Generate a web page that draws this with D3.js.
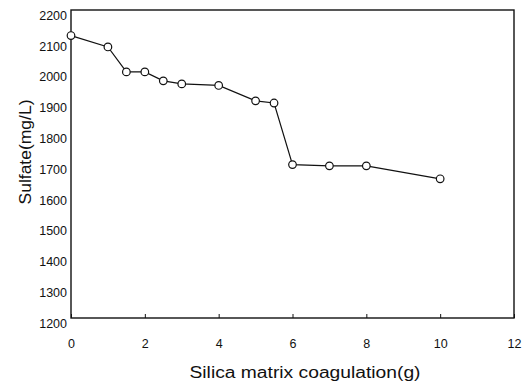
<!DOCTYPE html>
<html><head><meta charset="utf-8">
<script src="https://cdn.jsdelivr.net/npm/d3@7"></script>
<style>body{margin:0;background:#fff}svg{display:block}</style>
</head><body>
<script>
const xValues = [0, 1, 1.5, 2, 2.5, 3, 4, 5, 5.5, 6, 7, 8, 10];
const sulfate = [2117, 2080, 1999, 1999, 1970, 1960, 1955, 1905, 1898, 1698, 1694, 1694, 1652];
const xTicks = [0, 2, 4, 6, 8, 10, 12];
const yTicks = [1200, 1300, 1400, 1500, 1600, 1700, 1800, 1900, 2000, 2100, 2200];

const W = 526, H = 385;
const m = {left: 71, right: 12, top: 10, bottom: 67};
const svg = d3.select("body").append("svg").attr("width", W).attr("height", H);
const x = d3.scaleLinear().domain([0, 12]).range([m.left, W - m.right]);
const y = d3.scaleLinear().domain([1200, 2200]).range([H - m.bottom, m.top]);
const font = "Arial, 'Liberation Sans', sans-serif";

// frame
svg.append("rect").attr("x", x(0)).attr("y", y(2200))
  .attr("width", x(12) - x(0)).attr("height", y(1200) - y(2200))
  .attr("fill", "none").attr("stroke", "#111").attr("stroke-width", 1.4);

// x axis
const xa = svg.append("g").attr("transform", `translate(0,${y(1200)})`)
  .call(d3.axisBottom(x).tickValues(xTicks).tickSize(-4).tickPadding(21).tickFormat(d3.format("d")));
xa.select(".domain").remove();
xa.selectAll("line").attr("stroke", "#111");
xa.selectAll("text").attr("font-family", font).attr("font-size", 12.5).attr("fill", "#111");

// y axis
const ya = svg.append("g").attr("transform", `translate(${x(0)},0)`)
  .call(d3.axisLeft(y).tickValues(yTicks).tickSize(0).tickPadding(4).tickFormat(d3.format("d")));
ya.select(".domain").remove();
ya.selectAll("text").attr("font-family", font).attr("font-size", 12.5).attr("fill", "#111")
  .attr("dy", "0.75em");

// line
const pts = xValues.map((v, i) => [v, sulfate[i]]);
svg.append("path").datum(pts)
  .attr("d", d3.line().x(d => x(d[0])).y(d => y(d[1])))
  .attr("fill", "none").attr("stroke", "#111").attr("stroke-width", 1.2);

svg.selectAll("circle.pt").data(pts).enter().append("circle")
  .attr("cx", d => x(d[0])).attr("cy", d => y(d[1])).attr("r", 3.8)
  .attr("fill", "#fff").attr("stroke", "#111").attr("stroke-width", 1.2);

// axis titles
svg.append("text").attr("x", 305).attr("y", 378).attr("text-anchor", "middle")
  .attr("font-family", font).attr("font-size", 16).attr("fill", "#111")
  .attr("textLength", 231).attr("lengthAdjust", "spacingAndGlyphs")
  .text("Silica matrix coagulation(g)");
svg.append("text").attr("transform", "translate(31,152) rotate(-90)").attr("text-anchor", "middle")
  .attr("font-family", font).attr("font-size", 16).attr("fill", "#111")
  .attr("textLength", 105).attr("lengthAdjust", "spacingAndGlyphs")
  .text("Sulfate(mg/L)");
</script>
</body></html>
